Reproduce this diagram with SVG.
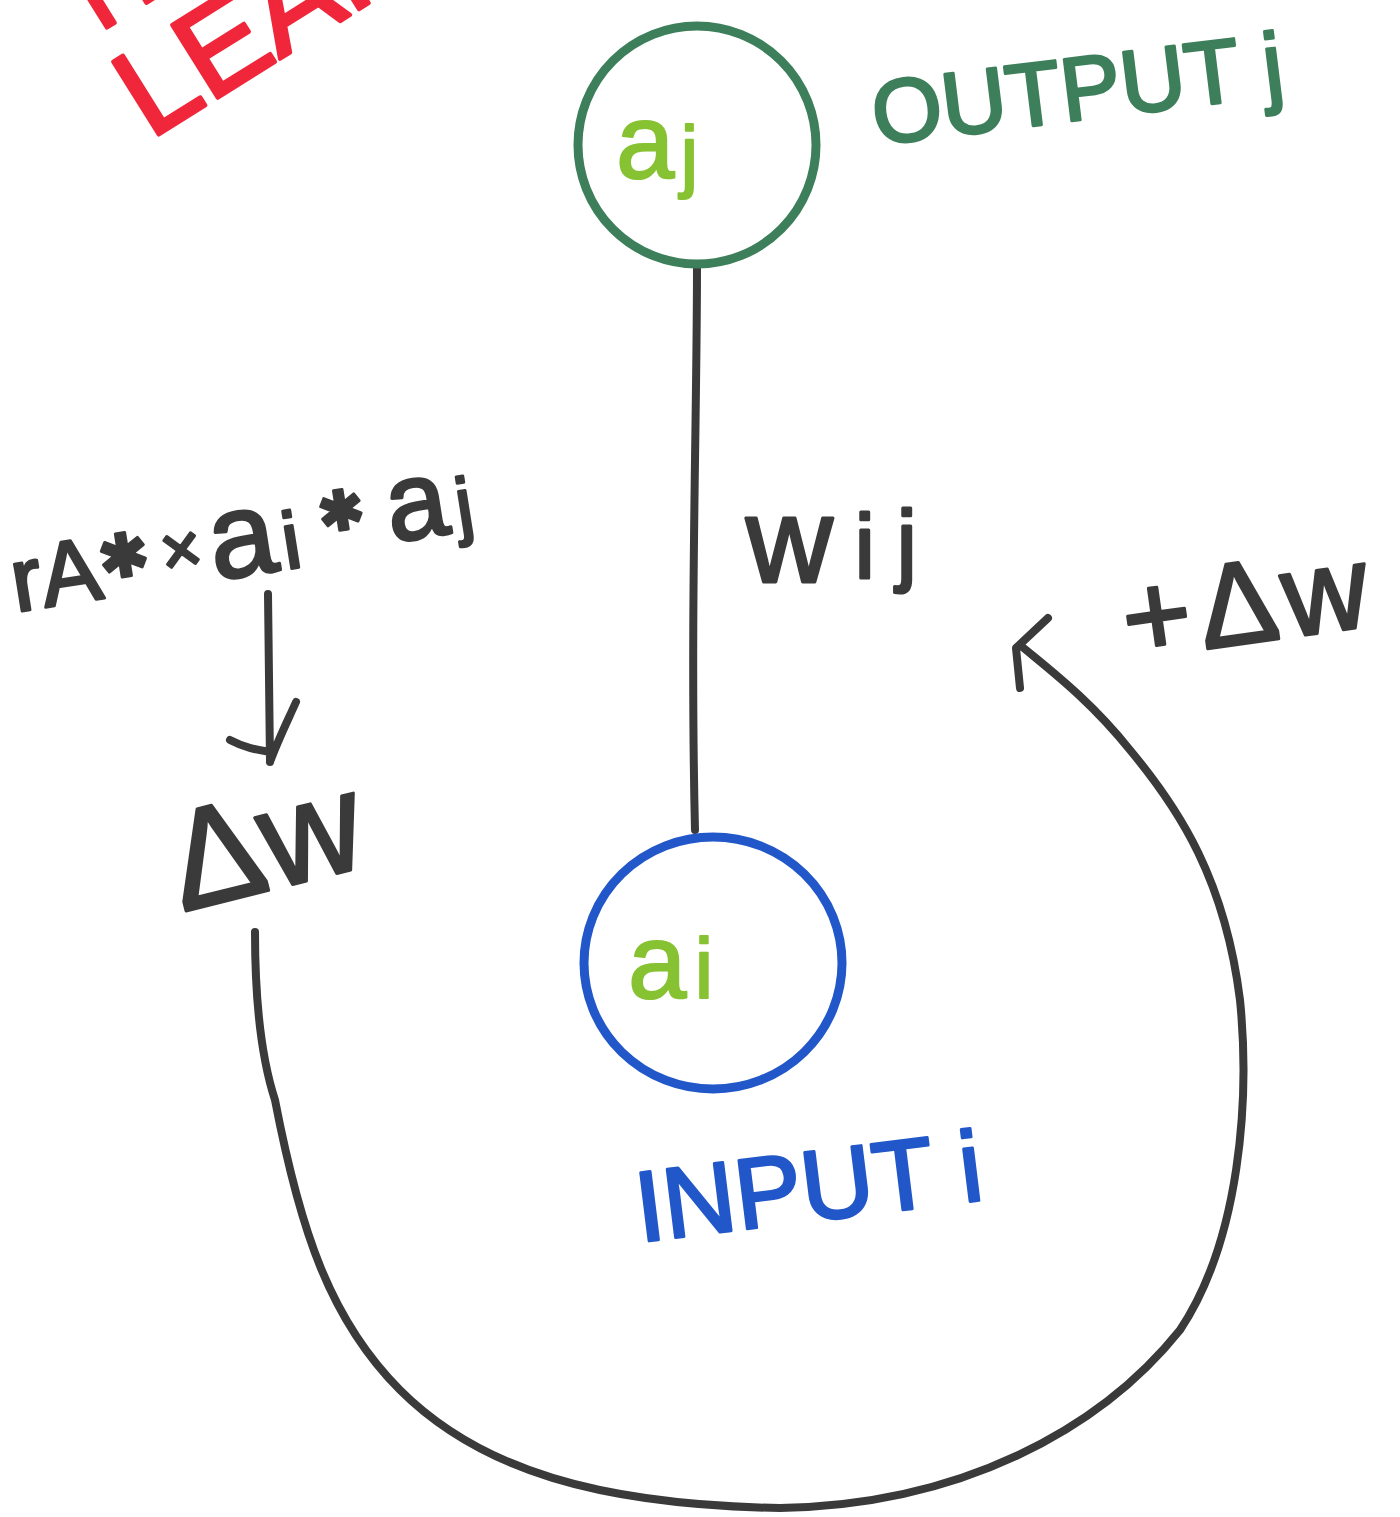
<svg xmlns="http://www.w3.org/2000/svg" width="1400" height="1517" viewBox="0 0 1400 1517">
<style>
.t{font-family:"Liberation Sans","DejaVu Sans",sans-serif;stroke-linejoin:round}
.ink{fill:#3a3a3a;stroke:#3a3a3a;stroke-width:3}
.grn{fill:#3d7f5a;stroke:#3d7f5a;stroke-width:3}
.lg{fill:#86c232;stroke:#86c232;stroke-width:2}
.blu{fill:#2157c9;stroke:#2157c9;stroke-width:3}
.red{fill:#f0263a;stroke:#f0263a;stroke-width:4}
.ln{fill:none;stroke:#3a3a3a;stroke-width:8;stroke-linecap:round;stroke-linejoin:round}
</style>
<rect width="1400" height="1517" fill="#fff"/>
<g id="title">
<text class="t red" font-size="125" transform="translate(150,140) rotate(-32)">LEAR</text>
<text class="t red" font-size="100" transform="translate(100,32) rotate(-32)">H</text>
</g>
<g id="connectors">
<path class="ln" d="M697,265 C697,420 690,620 695,830"/>
<path class="ln" d="M268,594 L270,762 M230,740 C245,748 258,750 270,752 M296,702 C288,720 278,740 270,762"/>
<path class="ln" d="M255,932 C255,1000 262,1060 275,1100 C300,1230 330,1320 400,1390 C480,1470 600,1505 780,1508 C960,1505 1100,1430 1180,1330 C1240,1240 1250,1100 1240,1000 C1225,880 1180,810 1130,750 C1090,700 1050,670 1020,645 M1048,618 L1016,648 L1020,688"/>
</g>
<g id="output">
<ellipse cx="697" cy="145" rx="119" ry="119" fill="none" stroke="#3d7f5a" stroke-width="9"/>
<text class="t lg" font-size="105" x="616" y="178">a<tspan font-size="80" dx="6" dy="4">j</tspan></text>
</g>
<g id="input">
<ellipse cx="713" cy="963" rx="129" ry="126" fill="none" stroke="#2157c9" stroke-width="9"/>
<text class="t lg" font-size="105" x="628" y="998">a<tspan font-size="85" dx="8">i</tspan></text>
</g>
<g id="labels">
<text class="t grn" font-size="90" transform="translate(876,145) rotate(-7)">OUTPUT j</text>
<text class="t blu" font-size="100" transform="translate(640,1242) rotate(-7)">INPUT i</text>
<text class="t ink" font-size="120" x="746" y="582">w<tspan font-size="90" dx="22" dy="-4">i</tspan><tspan font-size="90" dx="22" dy="-4">j</tspan></text>
<text class="t ink" font-size="90" transform="translate(16,612) rotate(-9)">rA<tspan font-size="60" dy="-18">✱</tspan><tspan font-size="70" dx="12" dy="6">×</tspan><tspan font-size="120" dx="8" dy="12">a</tspan><tspan font-size="80" dx="6">i</tspan><tspan font-size="55" dx="22" dy="-30">✱</tspan><tspan font-size="110" dx="22" dy="20">a</tspan><tspan font-size="75" dx="8">j</tspan></text>
<text class="t ink" font-size="140" transform="translate(182,912) rotate(-14)">Δw</text>
<text class="t ink" font-size="118" transform="translate(1128,660) rotate(-8)">+<tspan dx="8">Δ</tspan><tspan dx="6">w</tspan></text>
</g>
</svg>
